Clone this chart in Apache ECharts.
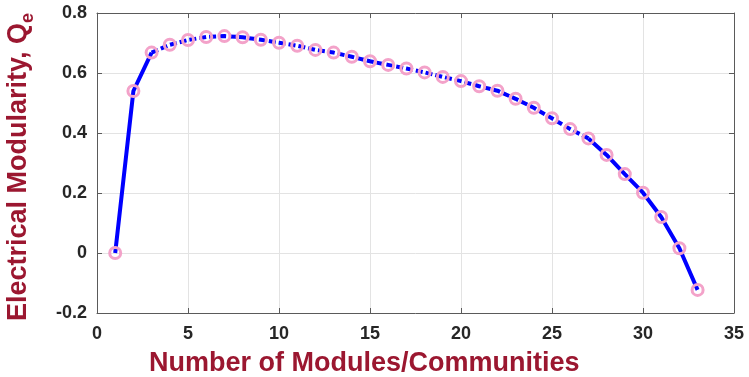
<!DOCTYPE html>
<html>
<head>
<meta charset="utf-8">
<script src="https://cdn.jsdelivr.net/npm/echarts@6/dist/echarts.min.js"></script>
<style>
    html, body { margin: 0; padding: 0; background: #fff; }
    #main { width: 749px; height: 377px; }
</style>
</head>
<body>
<div id="main"></div>
<script>
// number of modules / communities
var modules = [1, 2, 3, 4, 5, 6, 7, 8, 9, 10, 11, 12, 13, 14, 15, 16, 17,
    18, 19, 20, 21, 22, 23, 24, 25, 26, 27, 28, 29, 30, 31, 32, 33];
// electrical modularity Qe
var modularity = [0, 0.54, 0.668, 0.694, 0.71, 0.72, 0.723, 0.719, 0.711, 0.701,
    0.691, 0.677, 0.668, 0.654, 0.639, 0.627, 0.615, 0.602, 0.587, 0.573,
    0.556, 0.541, 0.514, 0.484, 0.449, 0.413, 0.382, 0.327, 0.263, 0.201,
    0.12, 0.016, -0.123];
var xTicks = [0, 5, 10, 15, 20, 25, 30, 35];
var yTicks = [-0.2, 0, 0.2, 0.4, 0.6, 0.8];
// the line is dashed between these modules, solid elsewhere
var dashFrom = 3, dashTo = 27;

var titleColor = '#9b1730';
var textColor = '#262626';
var axisColor = '#5a5a5a';
var fontName = "'Liberation Sans', Arial, sans-serif";

var points = modules.map(function (m, i) { return [m, modularity[i]]; });
var solidPart = modules.map(function (m, i) {
    return (m <= dashFrom || m >= dashTo) ? [m, modularity[i]] : [m, null];
});
var dashedPart = modules.map(function (m, i) {
    return (m >= dashFrom && m <= dashTo) ? [m, modularity[i]] : [m, null];
});

// frame axis (top / right): ticks only, no labels
function frameAxis(pos, min, max, interval) {
    return {
        type: 'value',
        position: pos,
        min: min,
        max: max,
        interval: interval,
        axisLine: { show: true, onZero: false, lineStyle: { color: axisColor, width: 1 } },
        axisTick: { show: true, inside: true, length: 5, lineStyle: { color: axisColor } },
        axisLabel: { show: false },
        splitLine: { show: false }
    };
}

var chart = echarts.init(document.getElementById('main'));
var option = {
    animation: false,
    title: {
        text: 'Number of Modules/Communities',
        left: 149,
        top: 350,
        padding: 0,
        textStyle: { color: titleColor, fontSize: 27, fontWeight: 'bold', fontFamily: fontName }
    },
    grid: { left: 97, right: 15, top: 13, bottom: 64, outerBoundsMode: 'none', containLabel: false },
    xAxis: [
        {
            type: 'value',
            min: xTicks[0],
            max: xTicks[xTicks.length - 1],
            interval: 5,
            axisLine: { show: true, onZero: false, lineStyle: { color: axisColor, width: 1 } },
            axisTick: { show: true, inside: true, length: 5, lineStyle: { color: axisColor } },
            axisLabel: { color: textColor, fontSize: 18, fontWeight: 'bold', fontFamily: fontName, margin: 12 },
            splitLine: { show: true, lineStyle: { color: '#e3e3e3', width: 1 } }
        },
        frameAxis('top', xTicks[0], xTicks[xTicks.length - 1], 5)
    ],
    yAxis: [
        {
            type: 'value',
            min: yTicks[0],
            max: yTicks[yTicks.length - 1],
            interval: 0.2,
            name: '{a|Electrical Modularity, Q}{b|e}',
            nameLocation: 'middle',
            nameRotate: 90,
            nameGap: 60,
            nameTextStyle: {
                padding: [0, 8, 0, 0],
                rich: {
                    a: { color: titleColor, fontSize: 27, fontWeight: 'bold', fontFamily: fontName, lineHeight: 32, verticalAlign: 'top' },
                    b: { color: titleColor, fontSize: 18, fontWeight: 'bold', fontFamily: fontName, lineHeight: 20, padding: [26, 0, 0, 0], verticalAlign: 'bottom' }
                }
            },
            axisLine: { show: true, onZero: false, lineStyle: { color: axisColor, width: 1 } },
            axisTick: { show: true, inside: true, length: 5, lineStyle: { color: axisColor } },
            axisLabel: { color: textColor, fontSize: 18, fontWeight: 'bold', fontFamily: fontName, margin: 10 },
            splitLine: { show: true, lineStyle: { color: '#e3e3e3', width: 1 } }
        },
        frameAxis('right', yTicks[0], yTicks[yTicks.length - 1], 0.2)
    ],
    series: [
        {
            name: 'solid',
            type: 'line',
            data: solidPart,
            showSymbol: false,
            connectNulls: false,
            lineStyle: { color: '#0000ff', width: 4 },
            z: 2
        },
        {
            name: 'dashed',
            type: 'line',
            data: dashedPart,
            showSymbol: false,
            connectNulls: false,
            lineStyle: { color: '#0000ff', width: 4, type: [7, 3], cap: 'butt' },
            z: 2
        },
        {
            name: 'markers',
            type: 'scatter',
            data: points,
            symbol: 'circle',
            symbolSize: 11,
            itemStyle: { color: 'rgba(0,0,0,0)', borderColor: '#f3a2c9', borderWidth: 3, opacity: 1 },
            z: 3
        }
    ]
};
chart.setOption(option);
</script>
</body>
</html>
